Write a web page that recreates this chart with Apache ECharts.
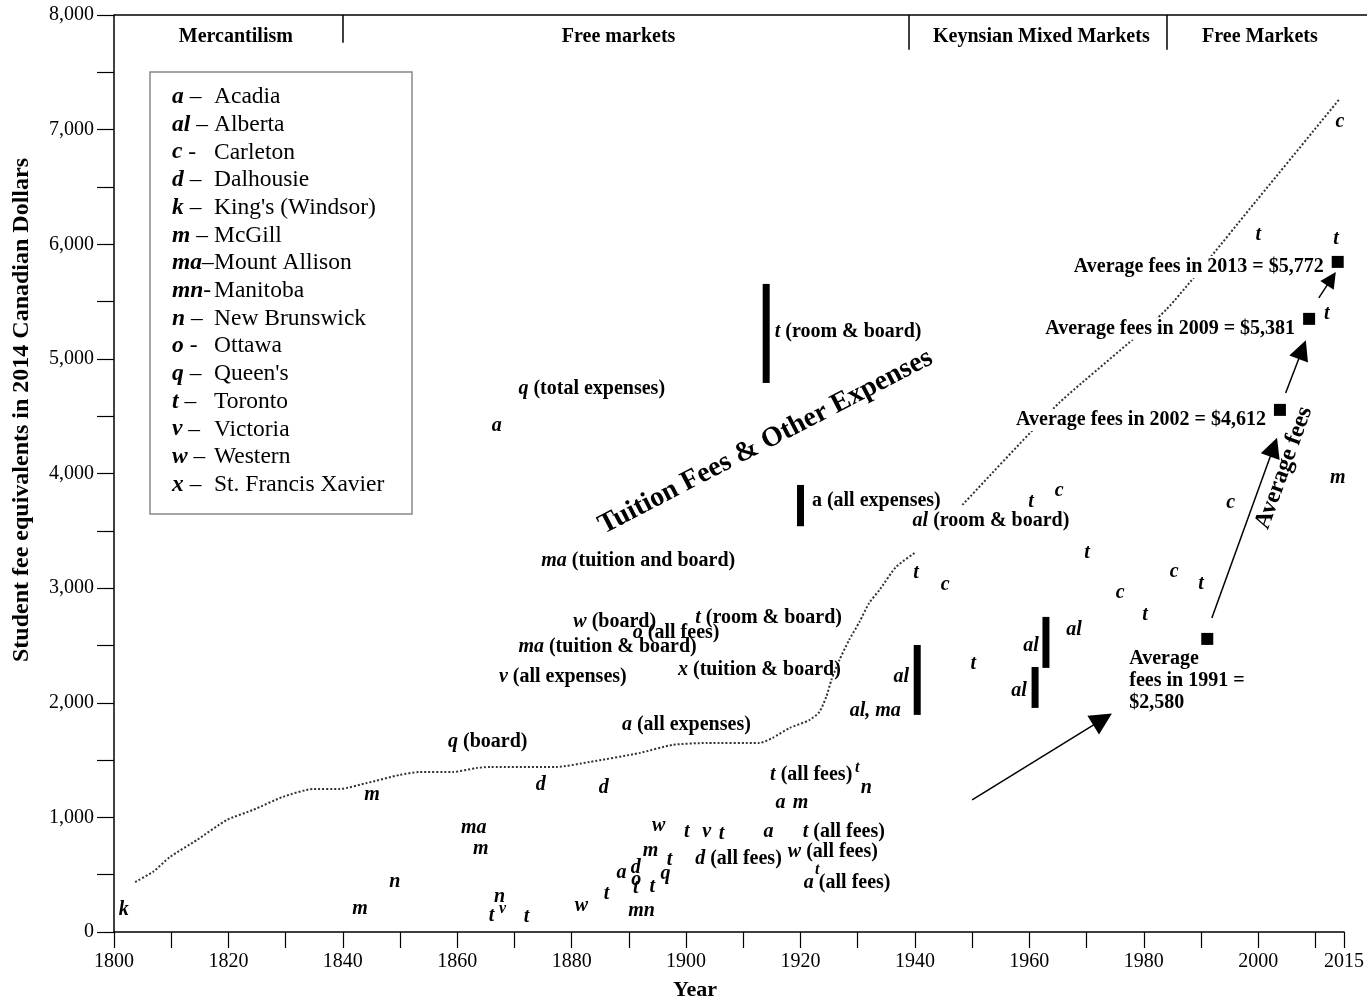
<!DOCTYPE html>
<html>
<head>
<meta charset="utf-8">
<script src="https://cdn.jsdelivr.net/npm/echarts@6/dist/echarts.min.js"></script>
<style>
html,body{margin:0;padding:0;background:#fff;}
#chart{width:1367px;height:1003px;}
</style>
</head>
<body>
<div id="chart"></div>
<script>
// ---------------- DATA ----------------
// single-letter university observations: [year, fee (2014 CAD), code]
const letterPoints = [
  [1801.7,192,'k'],[1843.0,201,'m'],[1849.1,436,'n'],[1845.1,1195,'m'],
  [1862.9,908,'ma'],[1864.1,724,'m'],[1867.4,305,'n'],[1866.0,140,'t'],
  [1872.1,131,'t'],[1874.6,1283,'d'],[1885.6,1257,'d'],[1881.7,227,'w'],
  [1886.1,332,'t'],[1888.7,515,'a'],[1891.2,558,'d'],[1891.3,454,'o'],
  [1891.2,384,'t'],[1892.2,183,'mn'],[1893.8,707,'m'],[1894.1,393,'t'],
  [1897.1,628,'t'],[1896.4,506,'q'],[1895.2,925,'w'],[1900.1,873,'t'],
  [1903.6,873,'v'],[1906.2,855,'t'],[1914.4,873,'a'],[1916.5,1126,'a'],
  [1920.0,1126,'m'],[1931.5,1257,'n'],[1866.9,4415,'a'],[1940.2,3133,'t'],
  [1945.3,3028,'c'],[1950.2,2339,'t'],[1937.6,2225,'al'],[1958.2,2103,'al'],
  [1960.3,2496,'al'],[1967.8,2635,'al'],[1960.3,3752,'t'],[1965.2,3848,'c'],
  [1970.1,3307,'t'],[1975.9,2958,'c'],[1980.2,2766,'t'],[1985.3,3141,'c'],
  [1990.0,3037,'t'],[1995.2,3743,'c'],[2000.0,6082,'t'],[2013.6,6047,'t'],
  [2012.0,5393,'t'],[2014.3,7068,'c'],[2013.9,3962,'m']
];
// small raised letters
const smallPoints = [[1867.9,205,'v'],[1929.9,1431,'t'],[1922.9,541,'t']];
// observations with a note: [year, fee, code, note]
const notePoints = [
  [1858.3,1658,'q','(board)'],
  [1888.7,1806,'a','(all expenses)'],
  [1867.2,2225,'v','(all expenses)'],
  [1870.6,2487,'ma','(tuition & board)'],
  [1880.2,2705,'w','(board)'],
  [1890.6,2609,'o','(all fees)'],
  [1901.5,2740,'t','(room & board)'],
  [1898.5,2286,'x','(tuition & board)'],
  [1874.6,3237,'ma','(tuition and board)'],
  [1870.6,4738,'q','(total expenses)'],
  [1915.4,5236,'t','(room & board)'],
  [1939.5,3586,'al','(room & board)'],
  [1928.5,1928,'al, ma',''],
  [1914.6,1370,'t','(all fees)'],
  [1901.5,637,'d','(all fees)'],
  [1920.3,873,'t','(all fees)'],
  [1917.7,698,'w','(all fees)'],
  [1920.5,428,'a','(all fees)']
];
const uprightNotePoints = [[1921.9,3761,'a (all expenses)']];
// range bars: [year, low, high]
const rangeBars = [[1914,4790,5654],[1920,3540,3900],[1940.4,1894,2504],[1961,1955,2312],[1962.9,2304,2749]];
// dotted trend lines
const curveA = [[1803.7,436],[1806.8,524],[1809.8,655],[1814.5,803],[1819.7,977],[1824.3,1065],[1829.5,1178],
  [1834.8,1248],[1839.5,1248],[1844.2,1300],[1849.9,1370],[1853.4,1396],[1859.2,1396],[1863.4,1431],
  [1865.7,1440],[1877.4,1440],[1883.1,1483],[1891.9,1562],[1897.6,1632],[1903.6,1649],[1912.8,1649],
  [1915.1,1693],[1918.1,1780],[1921.6,1850],[1923.3,1920],[1924.5,2051],[1925.4,2199],[1926.8,2373],
  [1928.5,2548],[1930.3,2705],[1932.0,2871],[1933.8,2984],[1936.7,3185],[1940.2,3316]];
const curveB = [[1948.3,3726],[1965.2,4616],[1983.9,5428],[1999.8,6387],[2014.1,7260]];
// average fees squares
const avgPoints = [[1991.1,2557],[2003.8,4555],[2008.9,5349],[2013.9,5846]];
const avgTexts = ['Average\nfees in 1991 =\n$2,580','Average fees in 2002 = $4,612','Average fees in 2009 = $5,381','Average fees in 2013 = $5,772'];
// arrows: [from, to]
const arrows = [
  [[1950.0,1152],[1972.8,1855]],
  [[1991.9,2740],[2002.7,4230]],
  [[2004.8,4703],[2007.7,5080]],
  [[2010.6,5532],[2012.8,5700]]
];
// eras
const eraBounds = [1840,1939,1984];
const eraBoundEnds = [7757,7696,7696];
const eraNames = ['Mercantilism','Free markets','Keynsian Mixed Markets','Free Markets'];
const eraCenters = [1821.3,1888.2,1962.1,2000.3];
const eraLabelValue = 7810;
// rotated annotations: [year, fee, text, angle]
const rotatedNotes = [[1913.9,4276,'Tuition Fees & Other Expenses',27.4],[2004.5,4049,'Average fees',70]];
// legend
const legendAbbr = ['a','al','c','d','k','m','ma','mn','n','o','q','t','v','w','x'];
const legendSep = [' –',' –',' -',' –',' –',' –','–','-',' –',' -',' –',' –',' –',' –',' –'];
const legendNames = ['Acadia','Alberta','Carleton','Dalhousie',"King's (Windsor)",'McGill','Mount Allison','Manitoba','New Brunswick','Ottawa',"Queen's",'Toronto','Victoria','Western','St. Francis Xavier'];
// axes
const xMin = 1800, xMax = 2015, xInterval = 10;
const yMin = 0, yMax = 8000, yInterval = 500;

// ---------------- CHART ----------------
const SERIF = 'Liberation Serif';
const chart = echarts.init(document.getElementById('chart'));
const hidden = {color:'rgba(0,0,0,0)', opacity:1};

const legendGraphics = [{
  type:'rect', shape:{x:150,y:72,width:262,height:442},
  style:{fill:'#fff',stroke:'#888',lineWidth:1.5}, z:10
}];
legendAbbr.forEach((ab,i)=>{
  const y = 97 + i*27.7;
  legendGraphics.push({type:'text', x:172, y:y, z:11, style:{
    text:'{i|'+ab+'}{r|'+legendSep[i]+'}', textVerticalAlign:'middle', textAlign:'left',
    rich:{i:{fontFamily:SERIF,fontSize:23.5,fontStyle:'italic',fontWeight:'bold',fill:'#000'},
          r:{fontFamily:SERIF,fontSize:23.5,fill:'#000'}}
  }});
  legendGraphics.push({type:'text', x:214, y:y, z:11, style:{
    text:legendNames[i], fontFamily:SERIF, fontSize:23.5, fill:'#000', textVerticalAlign:'middle', textAlign:'left'
  }});
});

const richNote = {
  i:{fontFamily:SERIF,fontSize:20,fontStyle:'italic',fontWeight:'bold',color:'#000'},
  b:{fontFamily:SERIF,fontSize:20,fontWeight:'bold',color:'#000'}
};

const avgLabelCfg = [
  {position:[-74,14], align:'left', verticalAlign:'top', lineHeight:22},
  {position:'left', distance:6, offset:[0,10]},
  {position:'left', distance:6, offset:[0,10]},
  {position:'left', distance:6, offset:[0,5]}
];

const option = {
  animation:false,
  backgroundColor:'#fff',
  grid:{left:114,right:22,top:15,bottom:71,containLabel:false},
  xAxis:{
    type:'value', min:xMin, max:xMax, interval:xInterval,
    axisLine:{show:true,onZero:false,lineStyle:{color:'#000',width:1.5}},
    axisTick:{show:true,length:16,lineStyle:{color:'#000',width:1.2}},
    axisLabel:{show:true,showMaxLabel:true,showMinLabel:true,margin:20,color:'#000',fontFamily:SERIF,fontSize:20,
      formatter:v=> (v%20===0 || v===xMax) ? String(v) : ''},
    splitLine:{show:false}
  },
  yAxis:{
    type:'value', min:yMin, max:yMax, interval:yInterval,
    axisLine:{show:true,lineStyle:{color:'#000',width:1.5}},
    axisTick:{show:true,length:17,lineStyle:{color:'#000',width:1.2}},
    axisLabel:{margin:20,color:'#000',fontFamily:SERIF,fontSize:20,
      formatter:v=> v%1000===0 ? v.toLocaleString('en-US') : ''},
    splitLine:{show:false}
  },
  graphic:[
    {type:'line', shape:{x1:114,y1:15,x2:1367,y2:15}, style:{stroke:'#000',lineWidth:1.5}},
    {type:'text', x:22, y:410, rotation:Math.PI/2, style:{text:'Student fee equivalents in 2014 Canadian Dollars',
      fontFamily:SERIF,fontSize:24,fontWeight:'bold',fill:'#000',textAlign:'center',textVerticalAlign:'middle'}},
    {type:'text', x:695, y:990, style:{text:'Year',fontFamily:SERIF,fontSize:22,fontWeight:'bold',fill:'#000',
      textAlign:'center',textVerticalAlign:'middle'}}
  ].concat(legendGraphics),
  series:[
    {
      type:'line', data:curveA, showSymbol:false, smooth:0.2, silent:true, z:2,
      lineStyle:{color:'#333',width:2,type:'dotted'},
      markLine:{silent:true, symbol:['none','none'], label:{show:false}, animation:false,
        lineStyle:{color:'#000',width:1.5,type:'solid'},
        data: eraBounds.map((b,i)=>[{coord:[b,yMax]},{coord:[b,eraBoundEnds[i]]}])}
    },
    {
      type:'line', data:curveB, showSymbol:false, smooth:0.15, silent:true, z:2,
      lineStyle:{color:'#333',width:2,type:'dotted'},
      markLine:{silent:true, symbol:['none','triangle'], symbolSize:[1,20], label:{show:false}, animation:false,
        lineStyle:{color:'#000',width:1.5,type:'solid'},
        data: arrows.map((a,i)=>[{coord:a[0]},{coord:a[1], symbolSize: i===0?22:(i===3?16:20)}])}
    },
    {
      type:'custom', silent:true, z:3,
      data:rangeBars,
      renderItem:(params,api)=>{
        const top = api.coord([api.value(0),api.value(2)]);
        const bot = api.coord([api.value(0),api.value(1)]);
        return {type:'rect', shape:{x:top[0]-3.5,y:top[1],width:7,height:bot[1]-top[1]}, style:{fill:'#000'}};
      }
    },
    {
      type:'scatter', silent:true, z:5, symbolSize:1, itemStyle:hidden,
      data:letterPoints.map(p=>({value:[p[0],p[1]], t:p[2]})),
      label:{show:true,position:'inside',formatter:p=>p.data.t,color:'#000',
        fontFamily:SERIF,fontSize:20,fontStyle:'italic',fontWeight:'bold'}
    },
    {
      type:'scatter', silent:true, z:5, symbolSize:1, itemStyle:hidden,
      data:smallPoints.map(p=>({value:[p[0],p[1]], t:p[2]})),
      label:{show:true,position:'inside',formatter:p=>p.data.t,color:'#000',
        fontFamily:SERIF,fontSize:16,fontStyle:'italic',fontWeight:'bold'}
    },
    {
      type:'scatter', silent:true, z:6, symbolSize:1, itemStyle:hidden,
      data:notePoints.map(p=>({value:[p[0],p[1]], a:p[2], n:p[3]})),
      label:{show:true,position:'right',distance:0,color:'#000',fontFamily:SERIF,fontSize:20,
        formatter:p=>'{i|'+p.data.a+'}'+(p.data.n?'{b| '+p.data.n+'}':''), rich:richNote}
    },
    {
      type:'scatter', silent:true, z:6, symbolSize:1, itemStyle:hidden,
      data:uprightNotePoints.map(p=>({value:[p[0],p[1]], t:p[2]})),
      label:{show:true,position:'right',distance:0,formatter:p=>p.data.t,color:'#000',
        fontFamily:SERIF,fontSize:20,fontWeight:'bold'}
    },
    {
      type:'scatter', silent:true, z:6, symbolSize:1, itemStyle:hidden,
      data:eraCenters.map((c,i)=>({value:[c,eraLabelValue], t:eraNames[i]})),
      label:{show:true,position:'inside',formatter:p=>p.data.t,color:'#000',
        fontFamily:SERIF,fontSize:20,fontWeight:'bold'}
    },
    {
      type:'scatter', silent:true, z:6, symbolSize:1, itemStyle:hidden,
      data:rotatedNotes.map((r,i)=>({value:[r[0],r[1]], t:r[2],
        label:{rotate:r[3], fontSize: i===0?28:24}})),
      label:{show:true,position:'inside',formatter:p=>p.data.t,color:'#000',
        fontFamily:SERIF,fontWeight:'bold'}
    },
    {
      type:'scatter', silent:true, z:7, symbol:'rect', symbolSize:12, itemStyle:{color:'#000',opacity:1},
      data:avgPoints.map((p,i)=>({value:p, t:avgTexts[i], label:avgLabelCfg[i]})),
      label:{show:true,formatter:p=>p.data.t,color:'#000',fontFamily:SERIF,fontSize:20,fontWeight:'bold',
        backgroundColor:'#fff',padding:[1,2]}
    }
  ]
};
chart.setOption(option);
</script>
</body>
</html>
